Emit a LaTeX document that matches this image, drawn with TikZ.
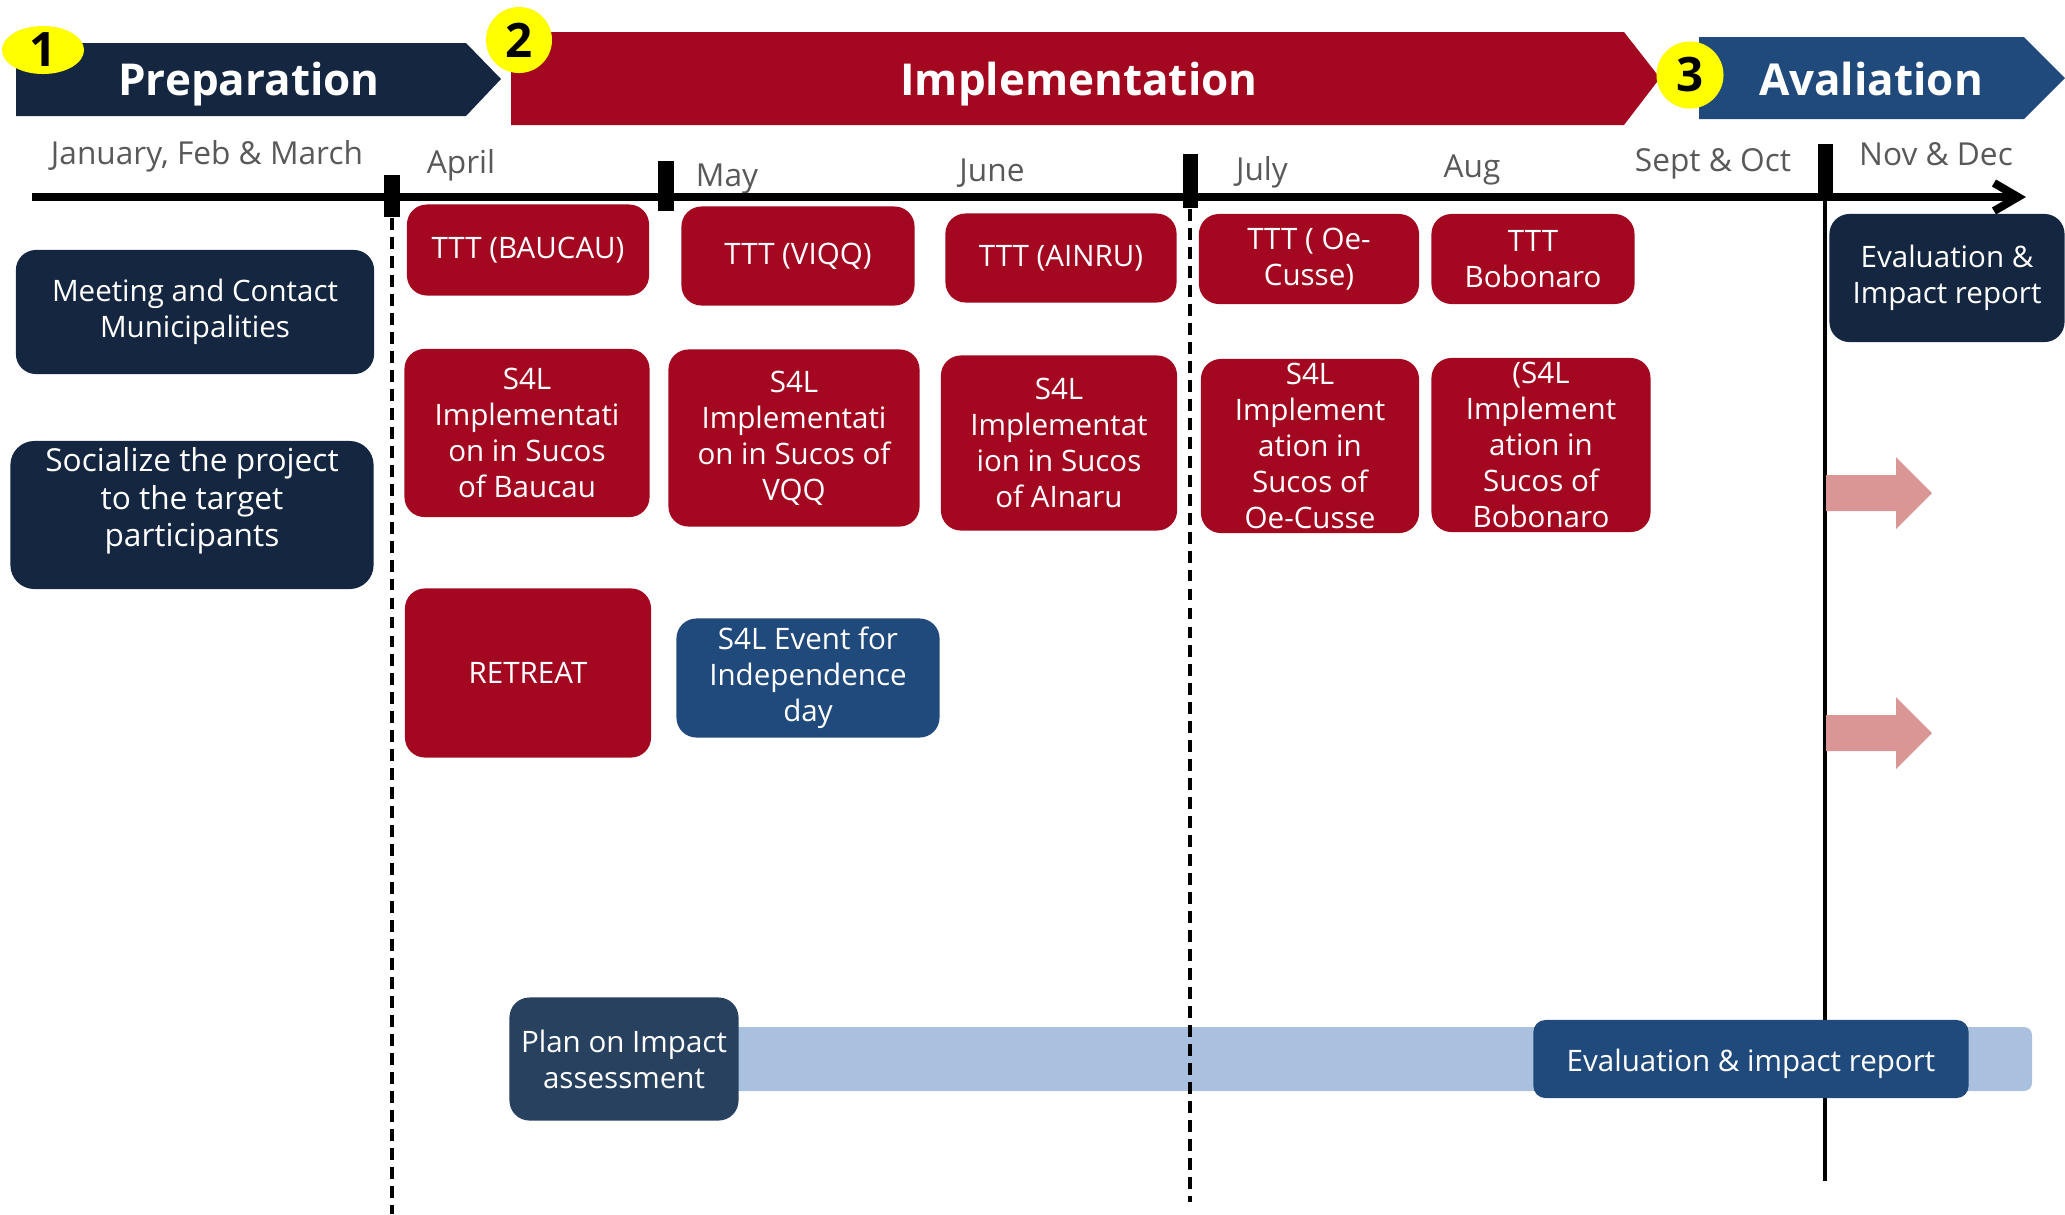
\documentclass[tikz,border=0pt]{standalone}
\usepackage{fontspec}
\setmainfont{Open Sans}
\usetikzlibrary{arrows.meta, shapes.geometric, positioning}

\definecolor{PrepNavy}{RGB}{20,38,64}
\definecolor{ImplRed}{RGB}{163,8,32}
\definecolor{EvalBlue}{RGB}{33,74,124}
\definecolor{PlanNavy}{RGB}{39,65,95}
\definecolor{BarBlue}{RGB}{169,193,223}
\definecolor{ArrowPink}{RGB}{218,150,148}
\definecolor{MonthGray}{RGB}{89,89,89}
\definecolor{BadgeYellow}{RGB}{255,255,0}

\tikzset{
  phase/.style={text=white, inner sep=0pt, font=\fontsize{12.5}{15}\selectfont\bfseries},
  badge/.style={ellipse, fill=BadgeYellow, inner sep=0pt, font=\fontsize{13.5}{15}\selectfont\bfseries},
  month/.style={text=MonthGray, inner sep=0pt, font=\fontsize{9}{11}\selectfont},
  monthtick/.style={fill=black, inner sep=0pt, minimum width=0.15cm},
  divider/.style={line width=0.9pt, dash pattern=on 3.4pt off 2pt},
  task/.style={rounded corners=0.2cm, text=white, align=center, inner sep=0pt,
               font=\fontsize{8.4}{10.2}\selectfont},
  preptask/.style={task, fill=PrepNavy},
  impltask/.style={task, fill=ImplRed},
  evaltask/.style={task, fill=EvalBlue},
}

\begin{document}
\begin{tikzpicture}[x=0.01cm, y=-0.01cm]
  \useasboundingbox (0,0) rectangle (2065,1214);

  % phase banners
  \fill[PrepNavy] (16,43) -- (466,43) -- (501,79) -- (466,116) -- (16,116) -- cycle;
  \fill[ImplRed] (511,32) -- (1624,32) -- (1660,78) -- (1624,125) -- (511,125) -- cycle;
  \fill[EvalBlue] (1699,37) -- (2024,37) -- (2065,78) -- (2024,119) -- (1699,119) -- cycle;
  \node[phase] (prepphase) at (249,84) {Preparation};
  \node[phase] (implphase) at (1079,84) {Implementation};
  \node[phase] (evalphase) at (1871,79) {Avaliation};
  \node[badge, minimum width=0.82cm, minimum height=0.48cm] (badge1) at (43,50) {1};
  \node[badge, minimum size=0.66cm] (badge2) at (519,40) {2};
  \node[badge, minimum size=0.67cm] (badge3) at (1690,75) {3};

  % months
  \node[month] (jfm) at (207,156) {January, Feb \& March};
  \node[month] (apr) at (461,165) {April};
  \node[month] (may) at (727,179) {May};
  \node[month] (jun) at (992,173) {June};
  \node[month] (jul) at (1262,172) {July};
  \node[month] (aug) at (1472,170) {Aug};
  \node[month] (sepoct) at (1713,164) {Sept \& Oct};
  \node[month] (novdec) at (1936,154) {Nov \& Dec};

  % time axis
  \coordinate (axisstart) at (32,197);
  \coordinate (axisend) at (2026,197);
  \draw[line width=2.3pt, -{Straight Barb[length=2.4mm, width=2.8mm]}] (axisstart) -- (axisend);
  \node[monthtick, minimum height=0.42cm] (tick1) at (392,196) {};
  \node[monthtick, minimum height=0.50cm] (tick2) at (666,186) {};
  \node[monthtick, minimum height=0.54cm] (tick3) at (1190,181) {};
  \node[monthtick, minimum height=0.51cm] (tick4) at (1825,170) {};

  % impact bar
  \fill[BarBlue, rounded corners=0.08cm] (700,1027) rectangle (2032,1091);

  % dividers
  \coordinate (div1end) at (392,1214);
  \coordinate (div3end) at (1190,1202);
  \coordinate (div4end) at (1825,1181);
  \draw[divider] (tick1.south) -- (div1end);
  \draw[divider] (tick3.south) -- (div3end);
  \draw[line width=0.9pt] (tick4.south) -- (div4end);

  % preparation tasks
  \node[preptask, minimum width=3.58cm, minimum height=1.24cm] (meet) at (195,312)
       {Meeting and Contact\\Municipalities};
  \node[preptask, minimum width=3.63cm, minimum height=1.48cm, rounded corners=0.24cm,
        text depth=0.36cm, font=\fontsize{9}{10.6}\selectfont] (social) at (192,515)
       {Socialize the project\\to the target\\participants};

  % implementation tasks
  \node[impltask, minimum width=2.42cm, minimum height=0.91cm] (tttbaucau) at (528,250)
       {TTT (BAUCAU)};
  \node[impltask, minimum width=2.45cm, minimum height=1.68cm] (s4lbaucau) at (527,433)
       {S4L\\Implementati\\on in Sucos\\of Baucau};
  \node[impltask, minimum width=2.46cm, minimum height=1.69cm] (retreat) at (528,673)
       {RETREAT};
  \node[evaltask, minimum width=2.63cm, minimum height=1.19cm] (event) at (808,678)
       {S4L Event for\\Independence\\day};
  \node[impltask, minimum width=2.33cm, minimum height=0.99cm] (tttviqq) at (798,256)
       {TTT (VIQQ)};
  \node[impltask, minimum width=2.51cm, minimum height=1.77cm] (s4lvqq) at (794,438)
       {S4L\\Implementati\\on in Sucos of\\VQQ};
  \node[impltask, minimum width=2.31cm, minimum height=0.89cm] (tttainru) at (1061,258)
       {TTT (AINRU)};
  \node[impltask, minimum width=2.36cm, minimum height=1.75cm] (s4lainaru) at (1059,443)
       {S4L\\Implementat\\ion in Sucos\\of AInaru};
  \node[impltask, minimum width=2.20cm, minimum height=0.90cm] (tttoecusse) at (1309,259)
       {TTT ( Oe-\\Cusse)};
  \node[impltask, minimum width=2.18cm, minimum height=1.74cm] (s4loecusse) at (1310,446)
       {S4L\\Implement\\ation in\\Sucos of\\Oe-Cusse};
  \node[impltask, minimum width=2.03cm, minimum height=0.90cm] (tttbobonaro) at (1533,259)
       {TTT\\Bobonaro};
  \node[impltask, minimum width=2.19cm, minimum height=1.74cm] (s4lbobonaro) at (1541,445)
       {(S4L\\Implement\\ation in\\Sucos of\\Bobonaro};

  % evaluation
  \node[preptask, minimum width=2.35cm, minimum height=1.28cm] (evalreport) at (1947,278)
       {Evaluation \&\\Impact report};
  \foreach \ay in {493,733} {
    \fill[ArrowPink] (1826,\ay-18) -- (1896,\ay-18) -- (1896,\ay-36) -- (1932,\ay)
      -- (1896,\ay+36) -- (1896,\ay+18) -- (1826,\ay+18) -- cycle;
  }

  % impact assessment
  \node[task, fill=PlanNavy, minimum width=2.29cm, minimum height=1.23cm] (plan) at (624,1059)
       {Plan on Impact\\assessment};
  \node[evaltask, minimum width=4.35cm, minimum height=0.78cm, rounded corners=0.12cm,
        text height=0.32cm] (evalbottom) at (1751,1059)
       {Evaluation \& impact report};
\end{tikzpicture}
\end{document}
